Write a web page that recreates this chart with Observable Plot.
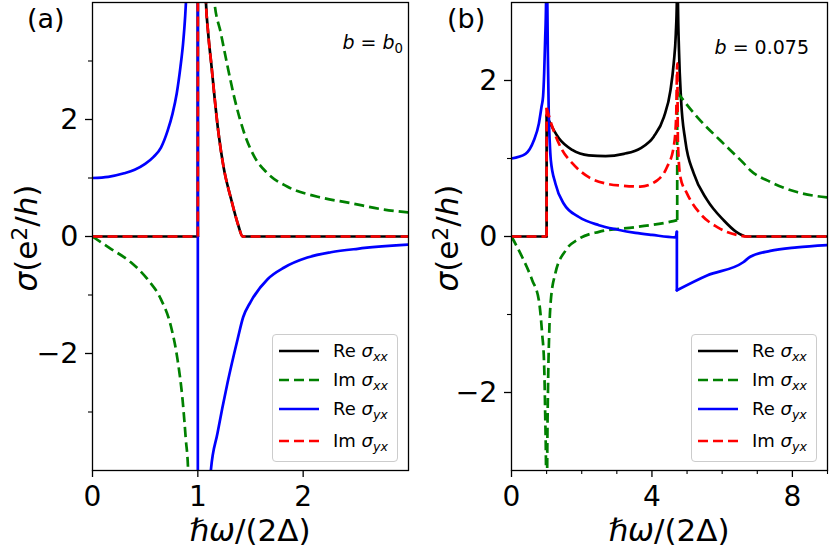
<!DOCTYPE html>
<html><head><meta charset="utf-8">
<script src="https://cdn.jsdelivr.net/npm/d3@7"></script>
<script src="https://cdn.jsdelivr.net/npm/@observablehq/plot@0.6"></script>
<style>
body{margin:0;background:#fff;}
#fig{position:relative;width:830px;height:554px;font-family:"DejaVu Sans";color:#000;overflow:hidden;background:#fff}
.panel{position:absolute;top:0}
.lbl{position:absolute;white-space:nowrap;line-height:1}
.legend{position:absolute;border:1px solid #cccccc;border-radius:4px;background:rgba(255,255,255,0.8);box-sizing:border-box}
.row{position:absolute;white-space:nowrap;line-height:1;font-size:18px}
i{font-style:italic}
sub.m{font-size:0.7em;vertical-align:-0.28em;line-height:0}
sup.m{font-size:0.7em;vertical-align:0.45em;line-height:0}
</style></head>
<body><div id="fig"></div>
<script>
// ---------- data ----------
// panel (a): b = b0
const aXTicks = [0, 1, 2];
const aYTicks = [-2, 0, 2];
const aYMinor = [-3, -1, 1, 3];
const aReSxx = [[0,0],[1,0],[1,8],[1.05,6],[1.076,4.05],[1.098,3.48],[1.13,2.91],[1.161,2.34],[1.196,1.77],[1.244,1.19],[1.313,0.66],[1.386,0.18],[1.424,0],[3,0]];
const aImSxxLow = [[0,0],[0.174,-0.21],[0.364,-0.44],[0.522,-0.73],[0.649,-1.07],[0.744,-1.53],[0.807,-2.10],[0.855,-2.79],[0.886,-3.47],[0.908,-4.01],[0.93,-6]];
const aImSxxHigh = [[1.12,7],[1.155,4.05],[1.218,3.48],[1.282,2.91],[1.351,2.34],[1.44,1.77],[1.535,1.37],[1.662,1.08],[1.852,0.85],[2.137,0.68],[2.453,0.57],[2.769,0.46],[3,0.41]];
const aReSyx = [[0,1],[0.15,1.02],[0.30,1.08],[0.40,1.14],[0.50,1.24],[0.58,1.36],[0.65,1.52],[0.712,1.8],[0.76,2.1],[0.80,2.45],[0.835,2.9],[0.86,3.3],[0.88,3.77],[0.89,4.1],[0.95,6],[1,8],[1,-8],[1.1,-6],[1.123,-4.01],[1.187,-3.36],[1.282,-2.5],[1.377,-1.76],[1.43,-1.38],[1.5,-1.12],[1.662,-0.73],[1.82,-0.53],[2.04,-0.36],[2.263,-0.27],[2.517,-0.21],[3,-0.14]];
const aImSyx = [[0,0],[1,0],[1,8],[1.05,6],[1.076,4.05],[1.098,3.48],[1.13,2.91],[1.161,2.34],[1.196,1.77],[1.244,1.19],[1.313,0.66],[1.386,0.18],[1.424,0],[3,0]];

// panel (b): b = 0.075
const bXTicks = [0, 4, 8];
const bXMinor = [1, 2, 3, 5, 6, 7, 9];
const bYTicks = [-2, 0, 2];
const bYMinor = [-1, 1];
const bReSxx = [[0,0],[1,0],[1,1.55],[1.06,1.49],[1.35,1.26],[1.73,1.11],[2.2,1.04],[2.68,1.03],[3.2,1.06],[3.67,1.13],[4.05,1.28],[4.34,1.53],[4.53,1.88],[4.62,2.22],[4.68,2.6],[4.71,3.03],[4.725,5],[4.74,3.03],[4.77,2.39],[4.83,1.75],[4.95,1.23],[5.19,0.81],[5.57,0.47],[6.04,0.21],[6.4,0.06],[6.71,0],[9,0]];
const bImSxx = [[0,0],[0.3,-0.26],[0.59,-0.56],[0.78,-0.82],[0.87,-1.23],[0.93,-1.65],[0.96,-2.29],[0.985,-3.1],[0.995,-5],[1.005,-5],[1.015,-3.1],[1.04,-1.95],[1.07,-1.3],[1.12,-0.82],[1.25,-0.47],[1.54,-0.18],[1.92,-0.03],[2.49,0.06],[3.53,0.12],[4.53,0.19],[4.72,0.21],[4.72,1.85],[5.29,1.53],[5.95,1.23],[6.61,0.94],[6.8,0.85],[7.37,0.70],[8.13,0.57],[9,0.5]];
const bReSyx = [[0,1],[0.4,1.06],[0.635,1.23],[0.78,1.45],[0.854,1.66],[0.9,1.8],[0.93,2.09],[0.958,2.52],[0.985,3.03],[1.0,5],[1.02,3.03],[1.04,2.2],[1.06,1.6],[1.09,1.2],[1.12,0.98],[1.25,0.68],[1.49,0.42],[1.92,0.25],[2.49,0.145],[3.0,0.09],[3.53,0.046],[4.0,0.02],[4.67,-0.01],[4.71,0.06],[4.71,-0.69],[5.57,-0.50],[6.6,-0.33],[6.8,-0.26],[7.37,-0.185],[8.13,-0.14],[9,-0.11]];
const bImSyx = [[0,0],[1,0],[1,1.65],[1.16,1.41],[1.44,1.11],[1.73,0.94],[2.2,0.76],[2.68,0.68],[3.2,0.65],[3.67,0.64],[4.15,0.72],[4.43,0.89],[4.62,1.15],[4.69,1.53],[4.72,2.22],[4.74,1.2],[4.81,0.76],[5.0,0.55],[5.38,0.29],[5.86,0.12],[6.42,0.02],[6.71,0],[9,0]];

const seriesLabels = [["Re","xx"],["Im","xx"],["Re","yx"],["Im","yx"]];
const seriesColors = ["#000000","#008000","#0000ff","#ff0000"];
const seriesDash = [null,"10,5",null,"10,5"];

// ---------- drawing ----------
const fig = document.getElementById("fig");
const fmt = d3.format("d");

// split a series into smooth runs (monotone) and vertical jumps (linear)
function pathOf(data) {
  const runs = [];
  let cur = [data[0]];
  for (let i = 1; i < data.length; i++) {
    if (data[i][0] === data[i - 1][0]) {
      runs.push({pts: cur, curve: "monotone-x"});
      runs.push({pts: [data[i - 1], data[i]], curve: "linear"});
      cur = [data[i]];
    } else cur.push(data[i]);
  }
  runs.push({pts: cur, curve: "monotone-x"});
  return runs.filter(r => r.pts.length > 1);
}

function lineMarks(data, k) {
  return pathOf(data).map(r => Plot.line(r.pts, {x: d => d[0], y: d => d[1], curve: r.curve, stroke: seriesColors[k], strokeWidth: 2.7,
    strokeDasharray: seriesDash[k], strokeLinecap: seriesDash[k] ? "butt" : "round", strokeLinejoin: "round", clip: true}));
}

function panel(o) {
  const marks = [];
  o.series.forEach(([arrs, k]) => arrs.forEach(a => marks.push(...lineMarks(a, k))));
  marks.push(Plot.frame({stroke: "black", strokeWidth: 1.3}));
  marks.push(Plot.axisX({ticks: o.xTicks, tickSize: 7, tickPadding: 8.5, fontSize: 28, tickFormat: fmt, label: null, strokeWidth: 1.3}));
  if (o.xMinor) marks.push(Plot.axisX({ticks: o.xMinor, tickSize: 4, tickFormat: () => "", label: null, strokeWidth: 1.1}));
  marks.push(Plot.axisY({ticks: o.yTicks, tickSize: 7, tickPadding: 7, fontSize: 28.5, tickFormat: fmt, label: null, strokeWidth: 1.3}));
  marks.push(Plot.axisY({ticks: o.yMinor, tickSize: 4, tickFormat: () => "", label: null, strokeWidth: 1.1}));
  const svg = Plot.plot({
    width: 415, height: 554,
    marginLeft: o.ml, marginRight: o.mr, marginTop: 2, marginBottom: 84,
    x: {domain: o.xDomain}, y: {domain: o.yDomain},
    style: {fontFamily: "DejaVu Sans", background: "transparent", overflow: "visible", color: "#000"},
    marks
  });
  svg.classList.add("panel");
  svg.style.left = o.left + "px";
  fig.appendChild(svg);
}

panel({left: 0, ml: 92, mr: 7, xDomain: [0, 3], yDomain: [-4, 4], xTicks: aXTicks, yTicks: aYTicks, yMinor: aYMinor,
  series: [[[aReSxx],0],[[aImSxxLow, aImSxxHigh],1],[[aReSyx],2],[[aImSyx],3]]});
panel({left: 415, ml: 96, mr: 3, xDomain: [0, 9], yDomain: [-3, 3], xTicks: bXTicks, xMinor: bXMinor, yTicks: bYTicks, yMinor: bYMinor,
  series: [[[bReSxx],0],[[bImSxx],1],[[bReSyx],2],[[bImSyx],3]]});

function addLabel(html, css) {
  const d = document.createElement("div");
  d.className = "lbl";
  d.innerHTML = html;
  Object.assign(d.style, css);
  fig.appendChild(d);
  return d;
}

// panel letters
addLabel("(a)", {left: "27px", top: "5px", fontSize: "27px"});
addLabel("(b)", {left: "447px", top: "5px", fontSize: "27px"});
// annotations
addLabel('<i>b</i> = <i>b</i><sub class="m">0</sub>', {right: (830 - 403) + "px", top: "33px", fontSize: "19px"});
addLabel('<i>b</i> = 0.075', {right: (830 - 809) + "px", top: "38px", fontSize: "19px"});
// x labels
const xl = '<i>ℏω</i>/(2Δ)';
[250, 669].forEach(cx => addLabel(xl, {left: cx + "px", top: "514.5px", fontSize: "31px", transform: "translateX(-50%)"}));
// y labels
const yl = '<i>σ</i>(e<sup class="m">2</sup>/<i>h</i>)';
[26, 447].forEach(cx => addLabel(yl, {left: cx + "px", top: "238px", fontSize: "31px", transform: "translate(-50%,-50%) rotate(-90deg)"}));

// legends
function legend(left) {
  const box = document.createElement("div");
  box.className = "legend";
  Object.assign(box.style, {left: left + "px", top: "334px", width: "126px", height: "128px"});
  const rowsY = [15.5, 44.5, 74, 106];
  seriesLabels.forEach(([pre, sub], k) => {
    const r = document.createElement("div");
    r.className = "row";
    r.style.top = (rowsY[k] - 9) + "px";
    r.style.left = "6px";
    const dash = seriesDash[k] ? `stroke-dasharray="${seriesDash[k]}"` : "";
    r.innerHTML = `<svg width="40" height="18" style="vertical-align:top"><line x1="0" x2="40" y1="9" y2="9" stroke="${seriesColors[k]}" stroke-width="2.7" ${dash}/></svg>` +
      `<span style="position:absolute;left:54px;top:0">${pre} <i>σ</i><sub class="m"><i>${sub}</i></sub></span>`;
    box.appendChild(r);
  });
  fig.appendChild(box);
}
legend(272);
legend(691);
</script>
</body></html>
